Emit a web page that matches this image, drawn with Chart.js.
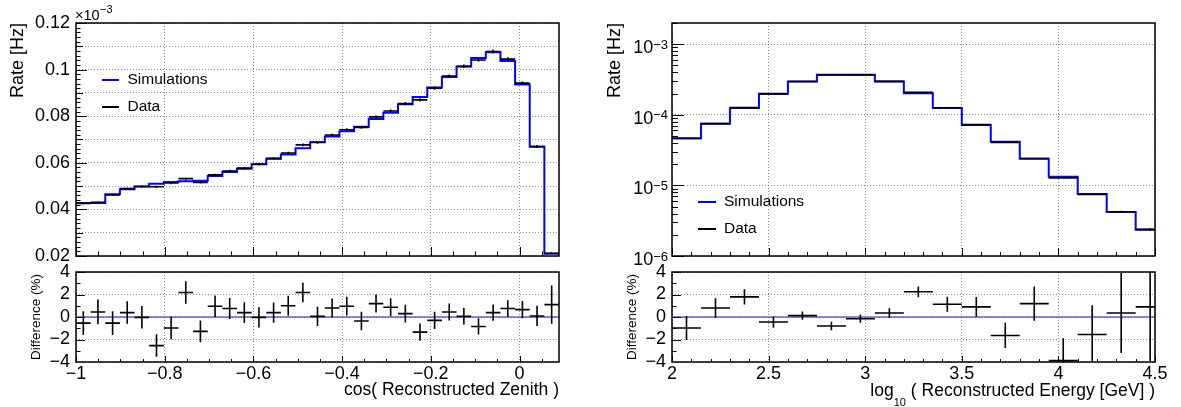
<!DOCTYPE html>
<html>
<head>
<meta charset="utf-8">
<script src="https://cdn.jsdelivr.net/npm/chart.js@4.4.1/dist/chart.umd.min.js"></script>
<style>
html,body{margin:0;padding:0;background:#fff;}
#wrap{position:relative;width:1181px;height:407px;overflow:hidden;background:#fff;}
canvas{position:absolute;left:0;top:0;}
</style>
</head>
<body>
<div id="wrap">
<canvas id="c1" width="1181" height="407"></canvas>
<canvas id="c2" width="1181" height="407"></canvas>
<canvas id="c3" width="1181" height="407"></canvas>
<canvas id="c4" width="1181" height="407"></canvas>
</div>
<script>
// ---------------- data ----------------
const zenithMin = -1, zenithMax = 0.089, zenithBinWidth = 0.033;
const zenithSim = [0.0428, 0.0428, 0.0465, 0.0487, 0.0498, 0.0510, 0.0518, 0.0521, 0.0523, 0.0543,
  0.0561, 0.0575, 0.0594, 0.0617, 0.0636, 0.0662, 0.0688, 0.0713, 0.0735, 0.0755,
  0.0788, 0.0815, 0.0851, 0.0882, 0.0923, 0.0968, 0.1013, 0.1050, 0.1074, 0.1037,
  0.0936, 0.0669, 0.0210];
const zenithData = [0.0426, 0.0430, 0.0462, 0.0489, 0.0498, 0.0497, 0.0513, 0.0532, 0.0516, 0.0548,
  0.0565, 0.0577, 0.0594, 0.0619, 0.0642, 0.0677, 0.0688, 0.0719, 0.0742, 0.0752,
  0.0797, 0.0822, 0.0854, 0.0870, 0.0920, 0.0972, 0.1014, 0.1041, 0.1078, 0.1045,
  0.0942, 0.0670, 0.0212];
const zenithDiff = [-0.54, 0.45, -0.54, 0.39, -0.03, -2.54, -0.98, 2.18, -1.28, 0.96,
  0.75, 0.39, -0.03, 0.39, 1.0, 2.18, 0.06, 0.8, 0.96, -0.36,
  1.19, 0.87, 0.3, -1.34, -0.3, 0.45, 0.06, -0.84, 0.39, 0.75,
  0.66, 0.09, 1.1];
const zenithDiffErr = [1.05, 1.1, 1.05, 1.0, 1.0, 1.0, 1.0, 1.0, 0.97, 0.95,
  0.93, 0.92, 0.9, 0.9, 0.88, 0.87, 0.85, 0.84, 0.83, 0.82,
  0.8, 0.8, 0.78, 0.77, 0.76, 0.75, 0.73, 0.72, 0.72, 0.73,
  0.76, 0.9, 1.7];

const energyMin = 2, energyMax = 4.5, energyBinWidth = 0.15;
const energySim = [4.67e-5, 7.45e-5, 1.245e-4, 1.99e-4, 2.97e-4, 3.69e-4, 3.69e-4, 2.97e-4, 2.03e-4,
  1.245e-4, 7.2e-5, 4.14e-5, 2.38e-5, 1.33e-5, 7.58e-6, 4.21e-6, 2.36e-6];
const energyData = [4.62e-5, 7.51e-5, 1.267e-4, 1.98e-4, 2.97e-4, 3.66e-4, 3.68e-4, 2.98e-4, 2.08e-4,
  1.26e-4, 7.26e-5, 4.07e-5, 2.41e-5, 1.28e-5, 7.46e-6, 4.23e-6, 2.38e-6];
const energyDiff = [-0.98, 0.8, 1.79, -0.45, 0.12, -0.8, -0.15, 0.36, 2.24, 1.13, 0.9, -1.64, 1.19, -3.88, -1.55, 0.36, 0.9];
const energyDiffErr = [1.07, 0.87, 0.67, 0.5, 0.37, 0.37, 0.37, 0.42, 0.48, 0.67, 0.88, 1.12, 1.52, 2.0, 2.6, 3.55, 4.8];

// ---------------- tick labels ----------------
const rateGridTicks = [0.02, 0.03, 0.04, 0.05, 0.06, 0.07, 0.08, 0.09, 0.10, 0.11, 0.12];
const rateTicks = [0.02, 0.04, 0.06, 0.08, 0.10, 0.12];
const rateTickLabels = ['0.02', '0.04', '0.06', '0.08', '0.1', '0.12'];
const zenithTicks = [-1, -0.8, -0.6, -0.4, -0.2, 0];
const zenithTickLabels = ['\u22121', '\u22120.8', '\u22120.6', '\u22120.4', '\u22120.2', '0'];
const energyTicks = [2, 2.5, 3, 3.5, 4, 4.5];
const energyTickLabels = ['2', '2.5', '3', '3.5', '4', '4.5'];
const logRateTicks = [1e-6, 1e-5, 1e-4, 1e-3];
const logRateExponents = ['\u22126', '\u22125', '\u22124', '\u22123'];
const diffTicks = [-4, -2, 0, 2, 4];
const diffTickLabels = ['\u22124', '\u22122', '0', '2', '4'];

// ---------------- helpers ----------------
const FONT = "'Liberation Sans', Arial, Helvetica, sans-serif";
Chart.defaults.font.family = FONT;
Chart.defaults.color = '#000';

function binEdges(min, w, n) { const e = []; for (let i = 0; i <= n; i++) e.push(min + i * w); return e; }
function stepPoints(ed, vals) {
  const p = vals.map((v, i) => ({x: ed[i], y: v}));
  p.push({x: ed[vals.length], y: vals[vals.length - 1]});
  return p;
}
function crossPoints(ed, vals, errs) {
  const p = [];
  vals.forEach((v, i) => {
    const c = (ed[i] + ed[i + 1]) / 2;
    p.push({x: ed[i], y: v}, {x: ed[i + 1], y: v}, {x: c, y: null});
    p.push({x: c, y: v - errs[i]}, {x: c, y: v + errs[i]}, {x: c, y: null});
  });
  return p;
}
function rangeStep(a, b, s) { const r = []; for (let v = a; v <= b + 1e-9; v += s) r.push(+v.toFixed(6)); return r; }
const fixedTicks = vals => s => { s.ticks = vals.map(v => ({value: v})); };
const labelFrom = (vals, labels) => v => { const i = vals.findIndex(t => Math.abs(t - v) < 1e-9); return i < 0 ? '' : labels[i]; };

const gridOpts = {color: 'rgba(105,105,105,0.75)', lineWidth: 1, drawTicks: false};
const borderOpts = {display: false, dash: [1, 2]};

function line(ctx, x0, y0, x1, y1) { ctx.beginPath(); ctx.moveTo(x0, y0); ctx.lineTo(x1, y1); ctx.stroke(); }

function framePlugin(spec) {
  return {
    id: 'rootFrame',
    afterDraw(chart) {
      const ctx = chart.ctx, a = chart.chartArea, xs = chart.scales.x, ys = chart.scales.y;
      ctx.save();
      ctx.strokeStyle = '#000';
      ctx.lineWidth = 1;
      spec.xTicks.forEach(([vals, len]) => vals.forEach(v => {
        if (v < xs.min - 1e-9 || v > xs.max + 1e-9) return;
        const px = Math.round(xs.getPixelForValue(v)) + 0.5;
        line(ctx, px, a.bottom, px, a.bottom - len);
      }));
      spec.yTicks.forEach(([vals, len]) => vals.forEach(v => {
        if (v < ys.min * (1 - 1e-9) - 1e-12 || v > ys.max * (1 + 1e-9) + 1e-12) return;
        const py = Math.round(ys.getPixelForValue(v)) + 0.5;
        line(ctx, a.left, py, a.left + len, py);
      }));
      ctx.lineWidth = 1.5;
      ctx.strokeRect(a.left, a.top, a.right - a.left, a.bottom - a.top);
      if (spec.extra) spec.extra(chart, ctx);
      ctx.restore();
    }
  };
}

function drawLegend(ctx, x0, x1, xt, y1, y2) {
  ctx.lineWidth = 2;
  ctx.strokeStyle = '#0000ff'; line(ctx, x0, y1, x1, y1);
  ctx.strokeStyle = '#000'; line(ctx, x0, y2, x1, y2);
  ctx.font = '15.5px ' + FONT; ctx.fillStyle = '#000';
  ctx.textBaseline = 'middle'; ctx.textAlign = 'left';
  ctx.fillText('Simulations', xt, y1);
  ctx.fillText('Data', xt, y2);
}

const zEdges = binEdges(zenithMin, zenithBinWidth, zenithSim.length);
const eEdges = binEdges(energyMin, energyBinWidth, energySim.length);
const zenithDataErr = zenithData.map((v, i) => v * zenithDiffErr[i] / 100);
const energyDataErr = energyData.map((v, i) => v * energyDiffErr[i] / 100);

const zMinor = rangeStep(-1, 0.08, 0.05);
const rateMid = rangeStep(0.02, 0.12, 0.01);
const rateMinor = rangeStep(0.02, 0.12, 0.002);
const eMinor = rangeStep(2, 4.5, 0.1);
const diffMinor = rangeStep(-4, 4, 1);
const logMinor = [];
[-6, -5, -4, -3].forEach(d => { for (let m = 2; m <= 9; m++) logMinor.push(m * Math.pow(10, d)); });

const common = {responsive: false, animation: false, devicePixelRatio: 1, events: [],
  plugins: {legend: {display: false}, tooltip: {enabled: false}}};

const simStyle = {borderColor: '#0000ff', borderWidth: 2, pointRadius: 0, stepped: 'before', fill: false};
const dataStyle = {borderColor: '#000', borderWidth: 1.6, pointRadius: 0, spanGaps: false, fill: false};
const zeroStyle = {borderColor: 'rgba(60,60,200,0.6)', borderWidth: 2, pointRadius: 0, fill: false};

// ---------------- chart 1: zenith rate ----------------
new Chart(document.getElementById('c1'), {
  type: 'line',
  data: {datasets: [
    Object.assign({label: 'Data', data: crossPoints(zEdges, zenithData, zenithDataErr)}, dataStyle),
    Object.assign({label: 'Simulations', data: stepPoints(zEdges, zenithSim)}, simStyle)
  ]},
  options: Object.assign({}, common, {
    layout: {padding: {left: 0, top: 23, right: 1181 - 559, bottom: 407 - 256}},
    scales: {
      x: {type: 'linear', min: zenithMin, max: zenithMax, afterBuildTicks: fixedTicks(zenithTicks),
        afterFit: s => { s.height = 0; }, ticks: {display: false}, grid: gridOpts, border: borderOpts},
      y: {type: 'linear', min: 0.02, max: 0.12, afterBuildTicks: fixedTicks(rateGridTicks),
        afterFit: s => { s.width = 76; },
        ticks: {font: {size: 18}, padding: 6, autoSkip: false, callback: labelFrom(rateTicks, rateTickLabels)},
        grid: gridOpts, border: borderOpts,
        title: {display: true, text: 'Rate [Hz]', align: 'end', font: {size: 18}, padding: {top: 7.2, bottom: 0}}}
    }
  }),
  plugins: [framePlugin({
    xTicks: [[zMinor, 4.5], [zenithTicks, 9]],
    yTicks: [[rateMinor, 4.5], [rateMid, 7], [rateTicks, 11]],
    extra: (chart, ctx) => {
      drawLegend(ctx, 102, 119, 127.5, 80, 107);
      ctx.fillStyle = '#000'; ctx.textBaseline = 'alphabetic'; ctx.textAlign = 'left';
      ctx.font = '14.5px ' + FONT;
      const w = ctx.measureText('\u00d710').width;
      ctx.fillText('\u00d710', 75, 20);
      ctx.font = '11px ' + FONT;
      ctx.fillText('\u22123', 75 + w + 0.5, 13);
    }
  })]
});

// ---------------- chart 2: zenith difference ----------------
new Chart(document.getElementById('c2'), {
  type: 'line',
  data: {datasets: [
    Object.assign({label: 'Difference', data: crossPoints(zEdges, zenithDiff, zenithDiffErr)}, dataStyle),
    Object.assign({label: 'Zero', data: [{x: zenithMin, y: 0}, {x: zenithMax, y: 0}]}, zeroStyle)
  ]},
  options: Object.assign({}, common, {
    layout: {padding: {left: 0, top: 272, right: 1181 - 559, bottom: 0}},
    scales: {
      x: {type: 'linear', min: zenithMin, max: zenithMax, afterBuildTicks: fixedTicks(zenithTicks),
        afterFit: s => { s.height = 45; },
        ticks: {font: {size: 18}, padding: 1, autoSkip: false, maxRotation: 0, callback: labelFrom(zenithTicks, zenithTickLabels)},
        grid: gridOpts, border: borderOpts,
        title: {display: true, text: 'cos( Reconstructed Zenith )', align: 'end', font: {size: 17.5}, padding: {top: 0, bottom: 6.5}}},
      y: {type: 'linear', min: -4, max: 4, afterBuildTicks: fixedTicks(diffTicks),
        afterFit: s => { s.width = 76; },
        ticks: {font: {size: 18}, padding: 6, autoSkip: false, callback: labelFrom(diffTicks, diffTickLabels)},
        grid: gridOpts, border: borderOpts,
        title: {display: true, text: 'Difference (%)', align: 'center', font: {size: 13.5}, padding: {top: 28.4, bottom: 0}}}
    }
  }),
  plugins: [framePlugin({
    xTicks: [[zMinor, 3], [zenithTicks, 6]],
    yTicks: [[diffMinor, 4.5], [diffTicks, 9]]
  })]
});

// ---------------- chart 3: energy rate (log) ----------------
new Chart(document.getElementById('c3'), {
  type: 'line',
  data: {datasets: [
    Object.assign({label: 'Data', data: crossPoints(eEdges, energyData, energyDataErr)}, dataStyle),
    Object.assign({label: 'Simulations', data: stepPoints(eEdges, energySim)}, simStyle)
  ]},
  options: Object.assign({}, common, {
    layout: {padding: {left: 0, top: 23, right: 1181 - 1155, bottom: 407 - 256}},
    scales: {
      x: {type: 'linear', min: energyMin, max: energyMax, afterBuildTicks: fixedTicks(energyTicks),
        afterFit: s => { s.height = 0; }, ticks: {display: false}, grid: gridOpts, border: borderOpts},
      y: {type: 'logarithmic', min: 1e-6, max: 2e-3, afterBuildTicks: fixedTicks(logRateTicks),
        afterFit: s => { s.width = 672; },
        ticks: {display: false}, grid: gridOpts, border: borderOpts,
        title: {display: true, text: 'Rate [Hz]', align: 'end', font: {size: 18}, padding: {top: 603.9, bottom: 0}}}
    }
  }),
  plugins: [framePlugin({
    xTicks: [[eMinor, 4], [energyTicks, 8]],
    yTicks: [[logMinor, 6], [logRateTicks, 12]],
    extra: (chart, ctx) => {
      drawLegend(ctx, 698, 716, 724, 202, 229);
      const ys = chart.scales.y;
      ctx.fillStyle = '#000'; ctx.textBaseline = 'alphabetic';
      logRateTicks.forEach((t, i) => {
        const y = ys.getPixelForValue(t);
        ctx.font = '13px ' + FONT;
        const ws = ctx.measureText(logRateExponents[i]).width;
        ctx.textAlign = 'left';
        ctx.fillText(logRateExponents[i], 668 - ws, y + 4.5);
        ctx.font = '18px ' + FONT;
        ctx.textAlign = 'right';
        ctx.fillText('10', 668 - ws, y + 9);
      });
    }
  })]
});

// ---------------- chart 4: energy difference ----------------
new Chart(document.getElementById('c4'), {
  type: 'line',
  data: {datasets: [
    Object.assign({label: 'Difference', data: crossPoints(eEdges, energyDiff, energyDiffErr)}, dataStyle),
    Object.assign({label: 'Zero', data: [{x: energyMin, y: 0}, {x: energyMax, y: 0}]}, zeroStyle)
  ]},
  options: Object.assign({}, common, {
    layout: {padding: {left: 0, top: 272, right: 1181 - 1155, bottom: 0}},
    scales: {
      x: {type: 'linear', min: energyMin, max: energyMax, afterBuildTicks: fixedTicks(energyTicks),
        afterFit: s => { s.height = 45; },
        ticks: {font: {size: 18}, padding: 1, autoSkip: false, maxRotation: 0, callback: labelFrom(energyTicks, energyTickLabels)},
        grid: gridOpts, border: borderOpts},
      y: {type: 'linear', min: -4, max: 4, afterBuildTicks: fixedTicks(diffTicks),
        afterFit: s => { s.width = 672; },
        ticks: {font: {size: 18}, padding: 6, autoSkip: false, callback: labelFrom(diffTicks, diffTickLabels)},
        grid: gridOpts, border: borderOpts,
        title: {display: true, text: 'Difference (%)', align: 'center', font: {size: 13.5}, padding: {top: 623.9, bottom: 0}}}
    }
  }),
  plugins: [framePlugin({
    xTicks: [[eMinor, 3], [energyTicks, 6]],
    yTicks: [[diffMinor, 4.5], [diffTicks, 9]],
    extra: (chart, ctx) => {
      ctx.fillStyle = '#000'; ctx.textBaseline = 'alphabetic';
      const rest = '( Reconstructed Energy [GeV] )';
      ctx.font = '17.5px ' + FONT;
      ctx.textAlign = 'right';
      ctx.fillText(rest, 1155, 396);
      const w = ctx.measureText(rest).width;
      const subEnd = 1155 - w - 5;
      ctx.font = '11px ' + FONT;
      const wsub = ctx.measureText('10').width;
      ctx.textAlign = 'left';
      ctx.fillText('10', subEnd - wsub, 406);
      ctx.font = '17.5px ' + FONT;
      ctx.textAlign = 'right';
      ctx.fillText('log', subEnd - wsub, 396);
    }
  })]
});
</script>
</body>
</html>
